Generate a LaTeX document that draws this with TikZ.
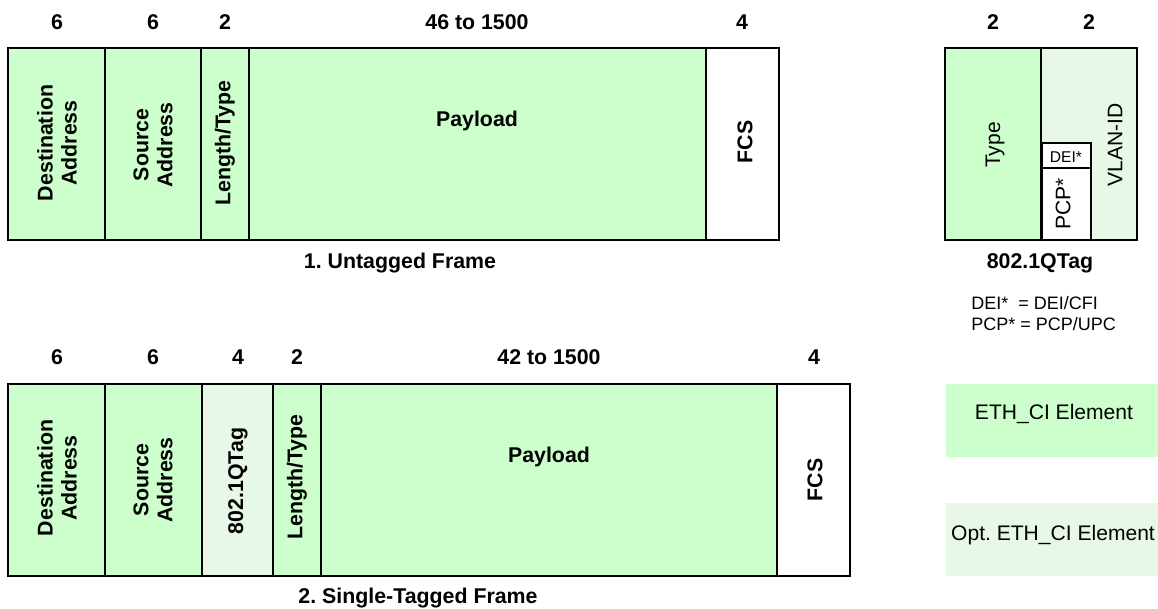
\documentclass[tikz,border=0pt]{standalone}
\usepackage{fontspec}
\setmainfont{Liberation Sans}
\frenchspacing
\definecolor{ciGreen}{HTML}{CCFFCC}
\definecolor{ciOpt}{HTML}{E8F8E8}
\begin{document}
\begin{tikzpicture}[x=0.75pt,y=-0.75pt,
  every node/.style={inner sep=0pt},
  big/.style={font=\fontsize{16}{18}\selectfont\bfseries},
  plain/.style={font=\fontsize{15.8}{18}\selectfont},
  field/.style={draw,line width=1.1pt,fill=ciGreen},
  optfield/.style={draw,line width=1.1pt,fill=ciOpt},
  fcsfield/.style={draw,line width=1.1pt,fill=white},
  up/.style={rotate=90,align=center}]
\useasboundingbox (0,0) rectangle (1158,609);
% 1. untagged frame
\draw[field] (8,48) rectangle (105,240);
\draw[field] (105,48) rectangle (201,240);
\draw[field] (201,48) rectangle (249,240);
\draw[field] (249,48) rectangle (706,240);
\draw[fcsfield] (706,48) rectangle (779,240);
\node[big] (uNumDa) at (57,22) {6};
\node[big] (uNumSa) at (153,22) {6};
\node[big] (uNumLt) at (225,22) {2};
\node[big] (uNumPl) at (477,22) {46 to 1500};
\node[big] (uNumFcs) at (742,22) {4};
\node[big,up] (uDa) at (57,143) {Destination\\Address};
\node[big,up] (uSa) at (153,145) {Source\\Address};
\node[big,up] (uLt) at (225,143) {Length/Type};
\node[big] (uPl) at (477,121) {Payload};
\node[big,up] (uFcs) at (745,142) {FCS};
\node[big] (uCap) at (400,263) {1. Untagged Frame};
% 802.1Q tag detail
\draw[field] (945,48) rectangle (1041,240);
\draw[optfield] (1041,48) rectangle (1137,240);
\draw[fcsfield] (1042,143) rectangle (1091,168);
\draw[fcsfield] (1042,168) rectangle (1091,240);
\node[big] (qNumType) at (993,22) {2};
\node[big] (qNumVid) at (1089,22) {2};
\node[plain,up] (qType) at (995,145) {Type};
\node[plain,up] (qVid) at (1115,145) {VLAN-ID};
\node[plain,up] (qPcp) at (1063,204) {PCP*};
\node[font=\fontsize{11.7}{13}\selectfont] (qDei) at (1066,157) {DEI*};
\node[big] (qCap) at (1040,263) {802.1QTag};
\node[font=\fontsize{13.5}{15.75}\selectfont,align=left,anchor=base west] (qNote) at (971,331)
  {DEI*\ \ = DEI/CFI\\PCP* = PCP/UPC};
% 2. single-tagged frame
\draw[field] (8,384) rectangle (105,576);
\draw[field] (105,384) rectangle (202,576);
\draw[optfield] (202,384) rectangle (273,576);
\draw[field] (273,384) rectangle (321,576);
\draw[field] (321,384) rectangle (777,576);
\draw[fcsfield] (777,384) rectangle (850,576);
\node[big] (tNumDa) at (57,357) {6};
\node[big] (tNumSa) at (153,357) {6};
\node[big] (tNumTag) at (238,357) {4};
\node[big] (tNumLt) at (297,357) {2};
\node[big] (tNumPl) at (549,357) {42 to 1500};
\node[big] (tNumFcs) at (814,357) {4};
\node[big,up] (tDa) at (57,478) {Destination\\Address};
\node[big,up] (tSa) at (153,480) {Source\\Address};
\node[big,up] (tTag) at (238,481) {802.1QTag};
\node[big,up] (tLt) at (297,477) {Length/Type};
\node[big] (tPl) at (549,457) {Payload};
\node[big,up] (tFcs) at (815,480) {FCS};
\node[big] (tCap) at (418,598) {2. Single-Tagged Frame};
% legend
\fill[ciGreen] (946,384) rectangle (1158,457);
\fill[ciOpt] (946,503) rectangle (1158,576);
\node[plain] (lgEth) at (1054,414) {ETH\_CI Element};
\node[plain] (lgOpt) at (1053,535) {Opt. ETH\_CI Element};
\end{tikzpicture}
\end{document}
